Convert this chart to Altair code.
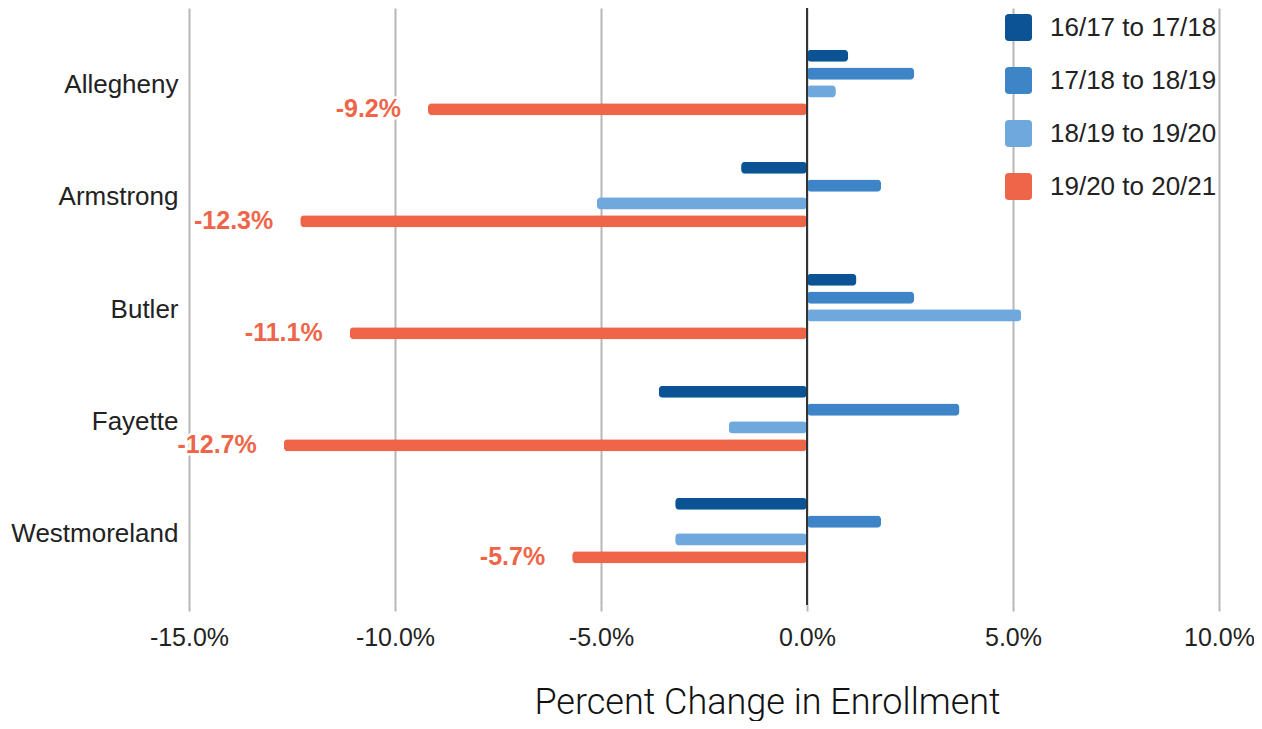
import altair as alt
import pandas as pd

counties = ["Allegheny", "Armstrong", "Butler", "Fayette", "Westmoreland"]
series = ["16/17 to 17/18", "17/18 to 18/19", "18/19 to 19/20", "19/20 to 20/21"]
colors = ["#0b5394", "#3d85c6", "#6fa8dc", "#ef6549"]

s1 = [1.0, -1.6, 1.2, -3.6, -3.2]
s2 = [2.6, 1.8, 2.6, 3.7, 1.8]
s3 = [0.7, -5.1, 5.2, -1.9, -3.2]
s4 = [-9.2, -12.3, -11.1, -12.7, -5.7]

rows = []
for si, vals in zip(series, [s1, s2, s3, s4]):
    for c, v in zip(counties, vals):
        rows.append({"county": c, "series": si, "value": v, "label": f"{v:.1f}%"})
df = pd.DataFrame(rows)

FONT = "Liberation Sans"
offset_domain = ["_pad_a"] + series + ["_pad_b"]
rounded_square = ("M -0.72,-1 L 0.72,-1 Q 1,-1 1,-0.72 L 1,0.72 Q 1,1 0.72,1 "
                  "L -0.72,1 Q -1,1 -1,0.72 L -1,-0.72 Q -1,-1 -0.72,-1 Z")

y_enc = alt.Y("county:N", sort=counties, title=None,
              scale=alt.Scale(paddingOuter=0.165, paddingInner=0),
              axis=alt.Axis(labelFont=FONT, labelFontSize=26, labelColor="#222222",
                            labelPadding=11, labelOffset=3, labelLimit=300,
                            domain=False, ticks=False, grid=False))
yoff = alt.YOffset("series:N",
                   scale=alt.Scale(domain=offset_domain, paddingInner=0.32, paddingOuter=0.3))

x_enc = alt.X("value:Q", title="Percent Change in Enrollment",
              scale=alt.Scale(domain=[-15, 10], nice=False, zero=False),
              axis=alt.Axis(values=[-15, -10, -5, 0, 5, 10],
                            labelExpr="(datum.value < 0 ? '-' : '') + format(abs(datum.value), '.1f') + '%'",
                            labelFont=FONT, labelFontSize=25, labelColor="#222222",
                            labelFlush=False, labelPadding=14, tickSize=6,
                            tickColor="#b7b7b7", tickWidth=2,
                            domain=False, grid=True, gridColor="#b7b7b7", gridWidth=2,
                            titleFont="Roboto", titleFontSize=36, titleFontWeight=300,
                            titleColor="#111111", titleX=578, titleY=108,
                            titleAlign="center", titleBaseline="alphabetic", titleAnchor="start"))

bars = alt.Chart().mark_bar(cornerRadius=4).encode(
    x=x_enc,
    y=y_enc,
    yOffset=yoff,
    color=alt.Color("series:N", sort=series,
                    scale=alt.Scale(domain=series, range=colors),
                    legend=alt.Legend(title=None, orient="none", legendX=816, legendY=6,
                                      symbolType=rounded_square, symbolSize=729,
                                      symbolStrokeWidth=0, labelLimit=400,
                                      labelFont=FONT, labelFontSize=26, labelColor="#222222",
                                      labelOffset=18, rowPadding=26, padding=0)),
)

zero = alt.Chart().mark_rule(color="#333333", strokeWidth=2).encode(x=alt.datum(0))

red = alt.Chart().transform_filter(alt.datum.series == series[3])
halo = red.mark_text(align="right", baseline="middle", dx=-27, font=FONT, fontSize=25,
                     fontWeight="bold", stroke="white", strokeWidth=5, strokeJoin="round",
                     fill="white").encode(x="value:Q", y=alt.Y("county:N", sort=counties),
                                          yOffset=yoff, text="label:N")
txt = red.mark_text(align="right", baseline="middle", dx=-27, font=FONT, fontSize=25,
                    fontWeight="bold", color="#ef6549").encode(
    x="value:Q", y=alt.Y("county:N", sort=counties), yOffset=yoff, text="label:N")

chart = alt.layer(bars, zero, halo, txt, data=df).properties(
    width=1030, height=597,
    autosize=alt.AutoSizeParams(type="none"),
    padding={"left": 181, "top": 0, "right": 35, "bottom": 116},
).configure_view(stroke=None)

chart.save("out.html", embed_options={"renderer": "svg", "actions": False})
